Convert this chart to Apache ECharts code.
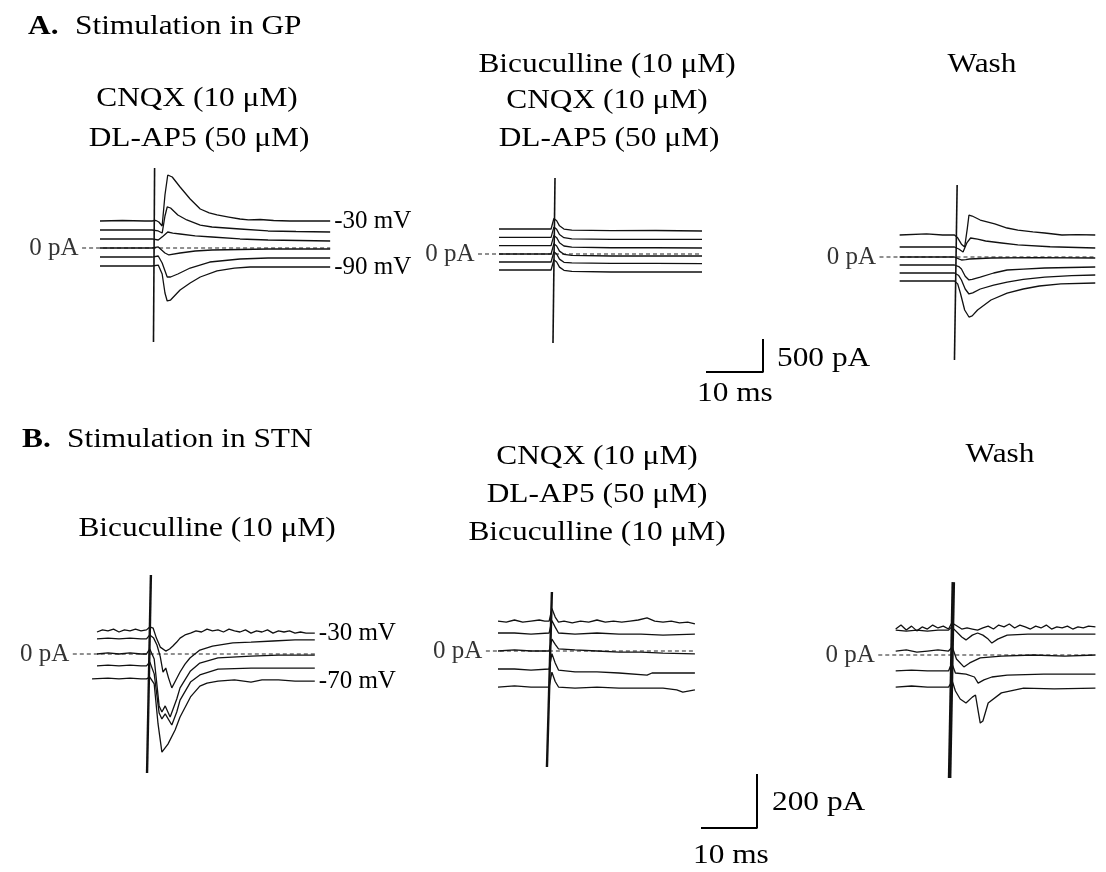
<!DOCTYPE html>
<html><head><meta charset="utf-8">
<script src="https://cdn.jsdelivr.net/npm/echarts@6.0.0/dist/echarts.min.js"></script>
<style>html,body{margin:0;padding:0;background:#fff}#c{width:1106px;height:872px}</style>
</head><body><div id="c"></div>
<script>
// ---------- DATA (time in ms, current in pA) ----------
// A. Stimulation in GP — CNQX + DL-AP5
const A1_traces = [
 [[0,422],[4,430],[8,422],[9.3,422],[10.0,430],[10.5,406],[11.1,344],[11.6,828],[12.1,1141],[12.9,1109],[14.3,953],[16.1,766],[17.9,609],[19.5,550],[20.9,516],[23,484],[25.0,453],[26.5,438],[28.6,445],[31,430],[33.9,422],[37,422],[41.1,422]],
 [[0,281],[5,281],[9.3,281],[10.4,266],[11.1,234],[11.6,500],[12.0,641],[12.6,625],[13.9,516],[15.5,438],[17.9,359],[20,328],[25,297],[30,266],[35,258],[41.1,250]],
 [[0,141],[5,141],[9.3,141],[10.4,125],[11.3,188],[12.1,250],[13,234],[14.3,219],[17,188],[20,172],[25,141],[30,125],[41.1,109]],
 [[0,0],[5,0],[9.3,0],[10.4,16],[11.6,-78],[12.3,-109],[14.3,-78],[17,-47],[20,-31],[30,-16],[41.1,-16]],
 [[0,-141],[5,-141],[9.3,-141],[10.4,-125],[11.1,-234],[12.0,-453],[12.6,-453],[13.9,-406],[16.1,-313],[19.6,-219],[25,-172],[30,-156],[41.1,-156]],
 [[0,-281],[5,-281],[9.3,-281],[10.4,-266],[11.1,-406],[11.6,-703],[12.0,-828],[12.6,-813],[14.3,-656],[16.1,-547],[17.9,-453],[20.9,-359],[24,-313],[26.8,-297],[41.1,-297]]
];
const A1_labels = ['-30 mV','','','','','-90 mV'];
const A1_artifact = [[9.55,-1469],[9.75,1250]];

// Bicuculline + CNQX + DL-AP5
const A2_traces = [
 [[0,391],[6,391],[9.3,391],[9.8,555],[10.3,520],[10.8,440],[11.6,390],[13,372],[20,364],[28,367],[36.25,359]],
 [[0,260],[6,260],[9.3,260],[9.8,420],[10.3,385],[10.8,305],[11.6,255],[13,237],[20,229],[28,229],[36.25,229]],
 [[0,130],[6,130],[9.3,130],[9.8,290],[10.3,255],[10.8,175],[11.6,125],[13,106],[20,98],[28,98],[36.25,94]],
 [[0,0],[6,0],[9.3,0],[9.8,160],[10.3,125],[10.8,45],[11.6,-5],[13,-23],[20,-31],[28,-31],[36.25,-31]],
 [[0,-125],[6,-125],[9.3,-125],[9.8,35],[10.3,0],[10.8,-80],[11.6,-130],[13,-140],[20,-146],[28,-146],[36.25,-150]],
 [[0,-250],[6,-250],[9.3,-250],[9.8,-90],[10.3,-125],[10.8,-205],[11.6,-255],[13,-273],[20,-281],[28,-281],[36.25,-281]]
];
const A2_artifact = [[9.64,-1391],[10.0,1188]];

// Wash
const A3_traces = [
 [[0,344],[5,360],[8,344],[10.2,344],[10.8,300],[11.5,200],[12.1,156],[12.6,450],[12.9,656],[13.5,640],[15,578],[17.7,516],[20,453],[22,420],[24.8,391],[27,375],[30.2,344],[33,350],[36.4,344]],
 [[0,156],[5,156],[10.2,156],[11.0,125],[11.8,78],[12.5,220],[13.2,297],[14.5,280],[16,250],[19,219],[22,188],[28,160],[36.4,141]],
 [[0,0],[5,0],[10.2,0],[11.0,-30],[11.5,-47],[12.3,-40],[13,-31],[17,-16],[25,-10],[36.4,-16]],
 [[0,-125],[5,-125],[10.2,-125],[11.0,-150],[11.5,-188],[12.2,-300],[12.9,-359],[13.5,-350],[15,-313],[17.5,-250],[20,-203],[23,-188],[27,-172],[36.4,-156]],
 [[0,-250],[5,-250],[10.2,-250],[11.0,-290],[11.5,-359],[12.2,-500],[12.9,-578],[13.6,-560],[15,-500],[17.5,-440],[20,-391],[23,-350],[27,-313],[32,-290],[36.4,-281]],
 [[0,-375],[5,-375],[10.2,-375],[10.8,-420],[11.3,-563],[12.1,-828],[12.9,-938],[13.5,-920],[14.5,-828],[17,-672],[20,-563],[23,-500],[26,-453],[30,-420],[36.4,-406]]
];
const A3_artifact = [[10.2,-1609],[10.7,1125]];

// B. Stimulation in STN — Bicuculline
const B1_traces = [
 [[0,83],[1,91],[2,87],[3,94],[4,83],[5,91],[6,87],[7,94],[8,87],[9,91],[9.6,102],[10.2,98],[10.8,60],[11.5,26],[12.5,11],[13.2,19],[13.8,30],[14.5,45],[15.1,60],[16,72],[17,79],[18,87],[19,83],[20,94],[21,87],[22,91],[23,83],[24,94],[25,87],[26,83],[27,91],[28,79],[29,87],[30,83],[31,91],[32,79],[33,87],[34,83],[35,87],[36,79],[37,83],[38,79],[39.6,79]],
 [[0,57],[2,60],[4,57],[6,60],[8,57],[9,57],[9.6,72],[10.3,60],[10.9,34],[11.5,-10],[12,-68],[12.5,-53],[13.0,-90],[13.6,-128],[14.3,-100],[15.1,-68],[16,-38],[16.9,-15],[18.7,15],[21,30],[24.7,42],[28,45],[32,49],[36,53],[39.6,53]],
 [[0,0],[2,4],[4,0],[6,4],[8,0],[9,0],[9.6,19],[10.4,-19],[11.3,-196],[11.8,-219],[12.4,-196],[13.3,-238],[14.5,-170],[15.1,-128],[17,-64],[18.7,-34],[22,-15],[28,-8],[33,-4],[39.6,-4]],
 [[0,-45],[2,-42],[4,-45],[6,-42],[8,-45],[9,-45],[9.6,-30],[10.4,-75],[11.3,-223],[11.8,-245],[12.4,-226],[13.6,-268],[14.5,-219],[15.1,-174],[17,-106],[18.7,-79],[22,-57],[28,-53],[33,-53],[39.6,-53]],
 [[-0.9,-94],[2,-91],[4,-94],[6,-91],[8,-94],[9,-94],[9.6,-87],[10.4,-113],[11.1,-264],[11.8,-370],[12.9,-340],[14.2,-287],[15.1,-238],[17,-162],[18.7,-121],[20,-110],[22,-102],[25,-98],[28,-106],[30,-98],[33,-98],[36,-102],[39.6,-102]]
];
const B1_labels = ['-30 mV','','','','-70 mV'];
const B1_artifact = [[9.1,-449],[9.8,298]];

// CNQX + DL-AP5 + Bicuculline
const B2_traces = [
 [[0,113],[1.5,109],[3,117],[4.5,109],[6,113],[7.5,117],[8.5,113],[9.3,113],[9.8,160],[10.4,128],[11,109],[12,113],[13.5,106],[15,113],[16.5,109],[18,117],[19.5,109],[21,113],[22.5,109],[24,113],[25.5,117],[27.1,125],[28.5,113],[30,109],[31.5,113],[33,106],[34.5,109],[35.8,102]],
 [[0,68],[3,68],[6,64],[9.3,68],[9.8,115],[10.4,90],[11,68],[14,64],[18,68],[22,64],[26,64],[30,60],[35.8,64]],
 [[0,0],[3,4],[6,0],[9.3,0],[9.8,45],[10.4,25],[11,8],[14,4],[18,0],[22,-4],[26,-4],[30,-8],[35.8,-11]],
 [[0,-68],[3,-68],[6,-72],[9.3,-68],[9.8,-10],[10.4,-45],[11,-72],[14,-79],[18,-79],[22,-83],[27.1,-91],[28,-83],[32,-83],[35.8,-83]],
 [[0,-136],[3,-132],[6,-136],[9.3,-136],[9.8,-80],[10.4,-115],[11,-136],[14,-140],[18,-136],[22,-140],[26,-140],[30,-140],[32.5,-147],[33.6,-155],[35.8,-147]]
];
const B2_artifact = [[8.9,-438],[9.8,223]];

// Wash
const B3_traces = [
 [[0,98],[1,113],[2,94],[3,109],[4,91],[5,106],[6,98],[7,113],[8,102],[9,109],[10,98],[10.6,121],[11.3,113],[12.5,98],[13.5,102],[14.5,98],[15.5,94],[16.5,102],[17.5,109],[18.5,98],[19.5,113],[20.5,106],[21.5,117],[22.5,102],[23.5,113],[24.5,106],[25.5,98],[26.5,109],[27.5,102],[28.5,113],[29.5,98],[30.5,106],[31.5,102],[32.5,109],[33.5,98],[34.5,106],[35.5,102],[36.5,109],[37.8,106]],
 [[0,94],[2,90],[4,94],[6,90],[8,94],[10,94],[10.6,106],[12.5,68],[13.3,57],[14.5,75],[15.5,83],[16.5,75],[17.5,60],[18.2,45],[19.3,60],[21.1,75],[25,79],[30,79],[37.8,79]],
 [[0,15],[2,19],[4,11],[6,15],[8,19],[10,15],[10.7,30],[11.5,-15],[12.9,-45],[14,-30],[16,-11],[20,-4],[26,0],[32,-4],[37.8,0]],
 [[0,-60],[3,-57],[6,-60],[10,-60],[10.6,-30],[11.3,-68],[13.3,-72],[14.9,-83],[15.6,-106],[16.7,-94],[18.2,-83],[21.1,-76],[28,-72],[37.8,-72]],
 [[0,-121],[3,-117],[6,-121],[10,-121],[10.7,-98],[11.3,-136],[12.2,-166],[13.3,-181],[14.5,-159],[15.1,-151],[15.6,-211],[16,-257],[16.5,-249],[17.5,-181],[20,-143],[24.2,-125],[30,-128],[37.8,-125]]
];
const B3_artifact = [[10.2,-464],[10.9,275]];

// Scale bars (ms, pA)
const scaleBarA = [[0,0],[10,0],[10,500]];
const scaleBarB = [[0,0],[10,0],[10,200]];

// ---------- LAYOUT ----------
const FONT = '"Liberation Serif","Times New Roman",serif';
const panels = [
 {traces:A1_traces, labels:A1_labels, artifact:A1_artifact, artW:1.6, x0:100, zeroY:248, pxMs:5.6, pApx:15.625, tEnd:41.1, dash:-3.2, yR:2000},
 {traces:A2_traces, labels:[], artifact:A2_artifact, artW:1.6, x0:499, zeroY:254, pxMs:5.6, pApx:15.625, tEnd:36.25, dash:-3.75, yR:2000},
 {traces:A3_traces, labels:[], artifact:A3_artifact, artW:1.6, x0:901, zeroY:257, pxMs:5.6, pApx:15.625, tEnd:36.4, dash:-3.75, yR:2000},
 {traces:B1_traces, labels:B1_labels, artifact:B1_artifact, artW:2.4, x0:97, zeroY:654, pxMs:5.5, pApx:3.774, tEnd:39.6, dash:-4.4, yR:600},
 {traces:B2_traces, labels:[], artifact:B2_artifact, artW:2.4, x0:498, zeroY:651, pxMs:5.5, pApx:3.774, tEnd:35.8, dash:-2.2, yR:600},
 {traces:B3_traces, labels:[], artifact:B3_artifact, artW:3.6, x0:897, zeroY:655, pxMs:5.5, pApx:3.774, tEnd:37.8, dash:-3.3, yR:600}
];
const scaleGrids = [
 {data:scaleBarA, left:707, bottom:372, pxMs:5.6, pApx:15.625, ms:10, pA:500},
 {data:scaleBarB, left:702, bottom:828, pxMs:5.5, pApx:3.774, ms:10, pA:200}
];

const grid=[], xAxis=[], yAxis=[], series=[];
const tMin=-6;
panels.forEach((p,i)=>{
  const tMax=p.tEnd+2;
  grid.push({left:p.x0+tMin*p.pxMs, top:p.zeroY-p.yR/p.pApx, width:(tMax-tMin)*p.pxMs, height:2*p.yR/p.pApx});
  xAxis.push({gridIndex:i,type:'value',min:tMin,max:tMax,show:false});
  yAxis.push({gridIndex:i,type:'value',min:-p.yR,max:p.yR,show:false});
  // dashed 0 pA line
  series.push({type:'line',xAxisIndex:i,yAxisIndex:i,data:[[p.dash,0],[p.tEnd,0]],showSymbol:false,clip:false,silent:true,z:1,
    lineStyle:{color:'#222',width:1.1,type:[4,3]}});
  series.push({type:'scatter',xAxisIndex:i,yAxisIndex:i,data:[[p.dash,0]],symbolSize:1,itemStyle:{color:'rgba(0,0,0,0)'},silent:true,
    label:{show:true,position:'left',distance:3,formatter:'0 pA',color:'#000',fontSize:25,fontFamily:FONT}});
  p.traces.forEach((tr,k)=>{
    const s={type:'line',xAxisIndex:i,yAxisIndex:i,data:tr,showSymbol:false,clip:false,silent:true,z:2,
      lineStyle:{color:'#111',width:1.3}};
    if(p.labels[k]) s.endLabel={show:true,formatter:p.labels[k],distance:4,color:'#000',fontSize:25,fontFamily:FONT};
    series.push(s);
  });
  series.push({type:'line',xAxisIndex:i,yAxisIndex:i,data:p.artifact,showSymbol:false,clip:false,silent:true,z:3,
    lineStyle:{color:'#111',width:p.artW}});
});
scaleGrids.forEach((g,j)=>{
  const i=panels.length+j;
  const h=g.pA/g.pApx;
  grid.push({left:g.left, top:g.bottom-h, width:g.ms*g.pxMs, height:h});
  xAxis.push({gridIndex:i,type:'value',min:0,max:g.ms,show:false});
  yAxis.push({gridIndex:i,type:'value',min:0,max:g.pA,show:false});
  series.push({type:'line',xAxisIndex:i,yAxisIndex:i,data:g.data,showSymbol:false,clip:false,silent:true,
    lineStyle:{color:'#000',width:2,cap:'square'}});
});

function T(x,y,s,align,extra){
  return Object.assign({type:'text',x:x,y:y,scaleX:1.12,silent:true,
    style:Object.assign({text:s,fontSize:28,fontFamily:FONT,fill:'#000',align:align||'center',verticalAlign:'middle'},extra||{})});
}
const graphic=[
  T(28,27,'A.','left',{fontWeight:'bold'}),
  T(75,27,'Stimulation in GP','left'),
  T(197,99,'CNQX (10 \u03bcM)'),
  T(199,138.5,'DL-AP5 (50 \u03bcM)'),
  T(607,64.5,'Bicuculline (10 \u03bcM)'),
  T(607,100.5,'CNQX (10 \u03bcM)'),
  T(609,139,'DL-AP5 (50 \u03bcM)'),
  T(982,65,'Wash'),
  T(777,359,'500 pA','left'),
  T(697,394,'10 ms','left'),
  T(22,440,'B.','left',{fontWeight:'bold'}),
  T(67,440,'Stimulation in STN','left'),
  T(207,529,'Bicuculline (10 \u03bcM)'),
  T(597,457,'CNQX (10 \u03bcM)'),
  T(597,495,'DL-AP5 (50 \u03bcM)'),
  T(597,533,'Bicuculline (10 \u03bcM)'),
  T(1000,455,'Wash'),
  T(772,803,'200 pA','left'),
  T(693,856,'10 ms','left')
];

const chart=echarts.init(document.getElementById('c'),null,{renderer:'canvas'});
chart.setOption({backgroundColor:'#fff',animation:false,grid,xAxis,yAxis,series,graphic});
</script></body></html>
